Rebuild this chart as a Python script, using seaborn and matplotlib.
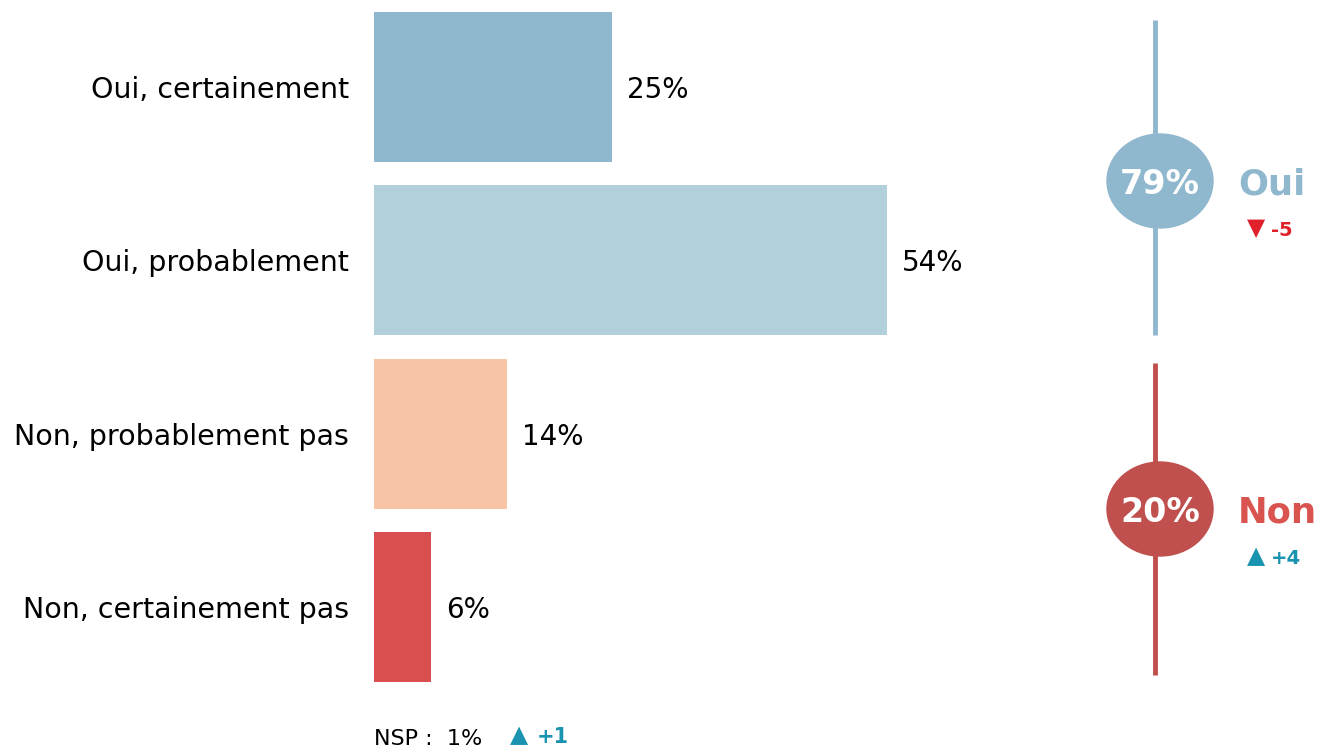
import matplotlib
matplotlib.use('Agg')
import matplotlib.pyplot as plt
from matplotlib.patches import Ellipse
import pandas as pd
import seaborn as sns

# Data
categories = ['Oui, certainement', 'Oui, probablement', 'Non, probablement pas', 'Non, certainement pas']
values = [25, 54, 14, 6]
bar_colors = ['#8FB8CE', '#B2CFDC', '#F7C4A5', '#D94F4F']

summary_labels = ['Oui', 'Non']
summary_values = [79, 20]
summary_changes = ['-5', '+4']
nsp_value = 1
nsp_change = '+1'

BLUE = '#8FB8CE'
RED_CIRCLE = '#C0504D'
RED_TEXT = '#D9534F'
DOWN_RED = '#E0202A'
UP_TEAL = '#1A93B0'

sns.set_style('white')
plt.rcParams['font.family'] = ['DejaVu Sans']

df = pd.DataFrame({'cat': categories, 'val': values})

W, H = 1317, 750
fig = plt.figure(figsize=(W / 100, H / 100), dpi=100)

# Bar axes
ax = fig.add_axes([374 / W, (H - 694) / H, (1000 - 374) / W, 694 / H])
sns.barplot(data=df, x='val', y='cat', hue='cat', palette=bar_colors,
            legend=False, width=0.866, ax=ax, saturation=1, linewidth=0)
ax.set_xlim(0, 626 / 9.5)
ax.set_ylim(3.5, -0.5)
ax.set_xlabel('')
ax.set_ylabel('')
ax.set_xticks([])
ax.tick_params(axis='y', length=0, pad=18, labelsize=20.5, labelcolor='black')
sns.despine(ax=ax, left=True, bottom=True)
for i, v in enumerate(values):
    ax.text(v + 1.6, i, f'{v}%', va='center_baseline', ha='left', fontsize=20, color='black')

# NSP note
fig.text(374 / W, 1 - 737 / H, f'NSP :  {nsp_value}%', fontsize=16, va='center_baseline',
         ha='left', color='black')
fig.text(510 / W, 1 - 735 / H, '▲', fontsize=17, va='center', ha='left', color=UP_TEAL)
fig.text(537 / W, 1 - 735 / H, nsp_change, fontsize=15, va='center_baseline', ha='left',
         color=UP_TEAL, fontweight='bold')

# Right summary panel
ov = fig.add_axes([0, 0, 1, 1])
ov.set_xlim(0, W)
ov.set_ylim(H, 0)
ov.axis('off')

line_spans = [(20, 335), (363, 675)]
centers = [181, 509]
circle_colors = [BLUE, RED_CIRCLE]
text_colors = [BLUE, RED_TEXT]
arrows = ['▼', '▲']
arrow_colors = [DOWN_RED, UP_TEAL]
for k in range(2):
    ov.plot([1155, 1155], line_spans[k], color=circle_colors[k], lw=3.5, solid_capstyle='butt')
    ov.add_patch(Ellipse((1160, centers[k]), 106, 94, color=circle_colors[k], zorder=3))
    ov.text(1160, centers[k], f'{summary_values[k]}%', color='white', fontsize=24,
            fontweight='bold', ha='center', va='center_baseline', zorder=4)
    ov.text(1238, centers[k], summary_labels[k], color=text_colors[k], fontsize=25.5,
            fontweight='bold', ha='left', va='center_baseline')
    ov.text(1247, centers[k] + 47, arrows[k], color=arrow_colors[k], fontsize=17,
            ha='left', va='center')
    ov.text(1271, centers[k] + 47, summary_changes[k], color=arrow_colors[k], fontsize=14,
            fontweight='bold', ha='left', va='center_baseline')

fig.savefig('out.png', dpi=100)
